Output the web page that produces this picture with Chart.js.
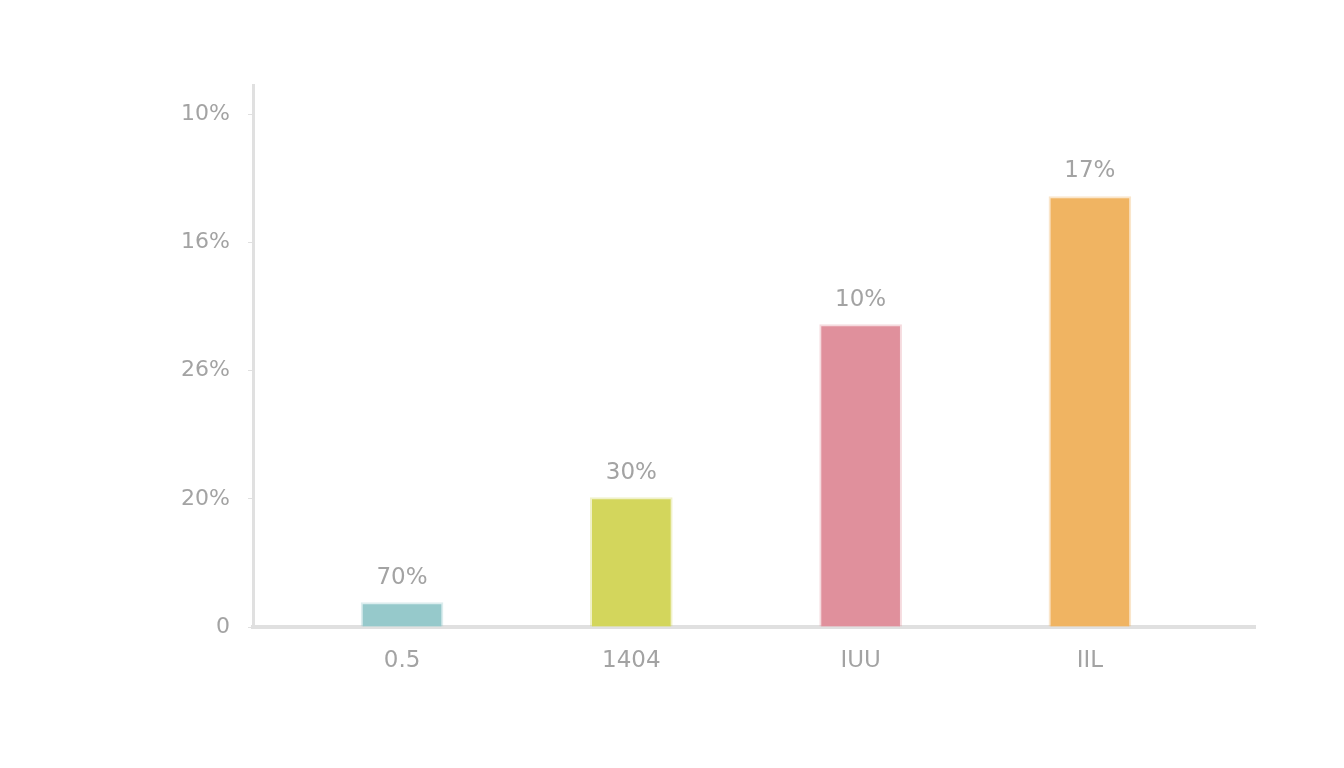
<!DOCTYPE html>
<html>
<head>
<meta charset="utf-8">
<script src="https://cdn.jsdelivr.net/npm/chart.js@4"></script>
<style>
  html, body { margin: 0; padding: 0; background: #fff; }
  #wrap { width: 1344px; height: 768px; }
</style>
</head>
<body>
<div id="wrap"><canvas id="chart"></canvas></div>
<script>
// data
const categories = ['0.5', '1404', 'IUU', 'IIL'];
const values = [1.9, 10.1, 23.6, 33.6];
const barLabels = ['70%', '30%', '10%', '17%'];
const yTickValues = [0, 10, 20, 30, 40];
const yTickLabels = ['0', '20%', '26%', '16%', '10%'];
const barColors = ['#96c9cb', '#d3d65c', '#e0909c', '#f0b462'];

const labelColor = '#a3a3a3';
const fontFamily = 'DejaVu Sans';

// draws the value text above each bar
const barLabelPlugin = {
    id: 'barLabels',
    afterDatasetsDraw(chart) {
        const ctx = chart.ctx;
        const meta = chart.getDatasetMeta(0);
        ctx.save();
        ctx.font = '23px "' + fontFamily + '"';
        ctx.fillStyle = labelColor;
        ctx.textAlign = 'center';
        ctx.textBaseline = 'middle';
        meta.data.forEach((bar, i) => {
            ctx.fillText(barLabels[i], bar.x, bar.y - 25);
        });
        ctx.restore();
    }
};

new Chart(document.getElementById('chart'), {
    type: 'bar',
    data: {
        datasets: [{
            data: values.map((v, i) => ({ x: i, y: v })),
            backgroundColor: barColors,
            borderColor: barColors.map(c => c + '55'),
            borderWidth: 2,
            barThickness: 82
        }]
    },
    options: {
        responsive: true,
        maintainAspectRatio: false,
        animation: false,
        layout: { padding: { top: 85, right: 89, left: 0, bottom: 0 } },
        plugins: {
            legend: { display: false },
            tooltip: { enabled: false }
        },
        scales: {
            x: {
                type: 'linear',
                offset: false,
                min: -0.65,
                max: 3.72,
                afterBuildTicks: axis => {
                    axis.ticks = categories.map((c, i) => ({ value: i }));
                },
                afterFit: axis => { axis.height = 141; },
                grid: { display: false, drawTicks: false },
                border: { color: '#e0e0e0', width: 4 },
                ticks: {
                    color: labelColor,
                    font: { family: fontFamily, size: 23 },
                    padding: 20,
                    callback: (v) => categories[v]
                }
            },
            y: {
                min: 0,
                max: 42.3,
                afterBuildTicks: axis => {
                    axis.ticks = yTickValues.map(v => ({ value: v }));
                },
                afterFit: axis => { axis.width = 253; },
                grid: { drawOnChartArea: false, tickLength: 5, color: '#e0e0e0' },
                border: { color: '#e0e0e0', width: 3 },
                ticks: {
                    color: labelColor,
                    font: { family: fontFamily, size: 22 },
                    padding: 18,
                    callback: (v) => yTickLabels[yTickValues.indexOf(v)]
                }
            }
        }
    },
    plugins: [barLabelPlugin]
});
</script>
</body>
</html>
